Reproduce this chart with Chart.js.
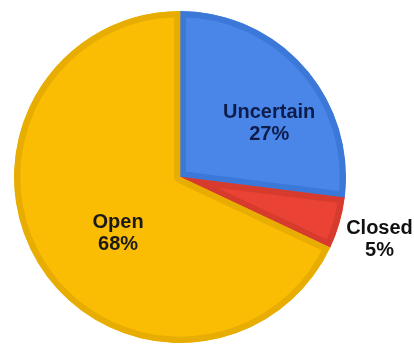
<!DOCTYPE html>
<html>
<head>
<meta charset="utf-8">
<script src="https://cdn.jsdelivr.net/npm/chart.js@4"></script>
<style>
  html, body { margin: 0; padding: 0; background: #ffffff; }
  #wrap { width: 414px; height: 345px; }
</style>
</head>
<body>
<div id="wrap"><canvas id="pieChart" width="414" height="345"></canvas></div>
<script>
const categories = ['Uncertain', 'Closed', 'Open'];
const shares = [27, 5, 68];

const colors = {
    fill: ['#4a86e8', '#ea4335', '#fbbc04'],
    border: ['#3c78d8', '#d63b2d', '#e8ad02'],
    text: ['#0e1c4c', '#111111', '#1a1a1a'],
};

// dónde va cada etiqueta: fracción del radio + pequeño ajuste
const labelRadius = [0.62, 1.22, 0.52];
const labelShiftX = [12, 5, 11];
const labelShiftY = [15, 6, 10];

const sliceLabels = {
    id: 'sliceLabels',
    afterDatasetsDraw(chart) {
        const ctx = chart.ctx;
        const arcs = chart.getDatasetMeta(0).data;
        ctx.save();
        ctx.font = 'bold 20px "Liberation Sans", Arial, sans-serif';
        ctx.textAlign = 'center';
        ctx.textBaseline = 'middle';
        arcs.forEach((arc, i) => {
            const p = arc.getProps(['x', 'y', 'startAngle', 'endAngle', 'outerRadius'], true);
            const mid = (p.startAngle + p.endAngle) / 2;
            const r = p.outerRadius * labelRadius[i];
            const x = p.x + Math.cos(mid) * r + labelShiftX[i];
            const y = p.y + Math.sin(mid) * r + labelShiftY[i];
            ctx.fillStyle = colors.text[i];
            ctx.fillText(categories[i], x, y - 11);
            ctx.fillText(shares[i] + '%', x, y + 11);
        });
        ctx.restore();
    }
};

const ctx = document.getElementById('pieChart').getContext('2d');
new Chart(ctx, {
    type: 'pie',
    data: {
        labels: categories,
        datasets: [
            {
                data: shares,
                backgroundColor: colors.fill,
                borderColor: colors.border,
                borderWidth: 6,
                borderAlign: 'inner',
            },
        ],
    },
    options: {
        responsive: false,
        animation: false,
        layout: { padding: { left: 14, right: 68, top: 11, bottom: 2 } },
        plugins: {
            legend: { display: false },
            tooltip: { enabled: false },
        },
    },
    plugins: [sliceLabels],
});
</script>
</body>
</html>
